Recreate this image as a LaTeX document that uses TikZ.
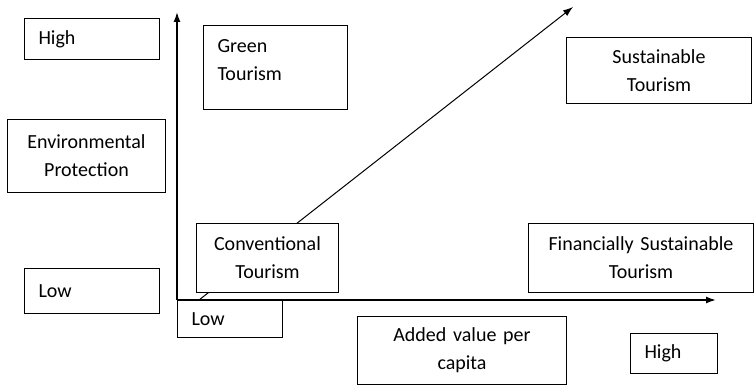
\documentclass[tikz,border=0pt]{standalone}
\usepackage{fontspec}
\setmainfont{Carlito}
\usepackage{tikz}
\usetikzlibrary{arrows.meta}

\tikzset{
  box/.style={draw, line width=1pt, fill=white, inner xsep=14pt, inner ysep=0pt,
              anchor=north west, font=\fontsize{20}{28}\selectfont},
  axis/.style={line width=1.5pt, -{Latex[length=10pt,width=7pt]}},
  trend/.style={line width=1pt, -{Latex[length=10pt,width=7pt]}}
}

\begin{document}
\begin{tikzpicture}[x=1pt,y=-1pt]

		    \useasboundingbox (0,0) rectangle (755,385);

		    \coordinate (O) at (177,300);
		    \coordinate (Ytop) at (177,12);
		    \coordinate (Xend) at (716,300);
		    \coordinate (Dstart) at (199,300);
		    \coordinate (Dend) at (573,7);

		    \draw[axis] (O)--(Ytop);
		    \draw[axis] (O)--(Xend);
		    \draw[trend] (Dstart)--(Dend);

		    % vertical axis labels
		    \node[box, text width=107pt, minimum height=41pt, align=left] (HighV) at (24,18) {High};
		    \node[box, text width=130pt, minimum height=73pt, align=center] (EnvP) at (7,119) {Environmental\\Protection};
		    \node[box, text width=107pt, minimum height=45pt, align=left] (LowV) at (24,268) {Low};

		    % quadrants
		    \node[box, text width=116pt, minimum height=84pt, text height=13pt, text depth=42pt, align=left] (Green) at (203,25) {Green\\Tourism};
		    \node[box, text width=157pt, minimum height=66pt, align=center] (Sust) at (566,37) {Sustainable\\Tourism};
		    \node[box, text width=114pt, minimum height=69pt, align=center] (Conv) at (196,223) {Conventional\\Tourism};
		    \node[box, text width=197pt, minimum height=69pt, align=center] (FinS) at (528,223) {Financially Sustainable\\Tourism};

		    % horizontal axis labels
		    \node[box, text width=77pt, minimum height=37pt, align=left] (LowH) at (177,300) {Low};
		    \node[box, text width=181pt, minimum height=68pt, align=center] (AddV) at (357,316) {Added value per\\capita};
		    \node[box, text width=59pt, minimum height=40pt, align=left] (HighH) at (630,333) {High};

	    \end{tikzpicture}
\end{document}
